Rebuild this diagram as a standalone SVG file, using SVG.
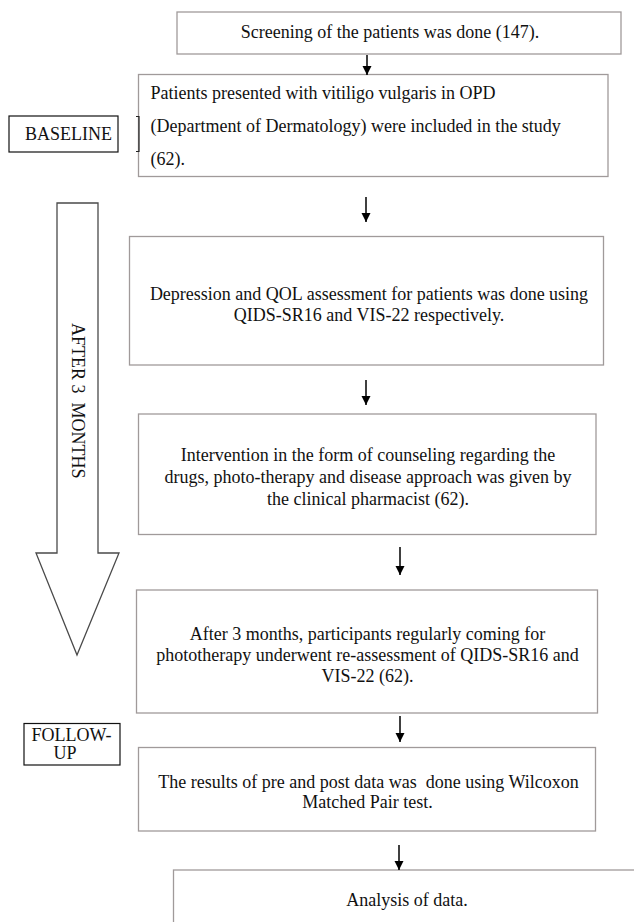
<svg xmlns="http://www.w3.org/2000/svg" width="634" height="922" viewBox="0 0 634 922">
<style>
text{font-family:"Liberation Serif","Times New Roman",serif;font-size:18px;fill:#111;}
.box{fill:#fff;stroke:#a09a9a;stroke-width:1.3;}
.tag{fill:#fff;stroke:#111;stroke-width:1.2;}
.c{text-anchor:middle;}
.conn{stroke:#000;stroke-width:1.5;fill:none;marker-end:url(#ah);}
</style>
<defs>
<marker id="ah" markerUnits="userSpaceOnUse" markerWidth="9" markerHeight="11" refX="9" refY="4.5" orient="auto" viewBox="0 0 9 9">
<path d="M0,0 L9,4.5 L0,9 z" fill="#000"/>
</marker>
</defs>
<rect width="634" height="922" fill="#fff"/>

<g id="period-arrow">
<polygon points="57,203 98,203 98,553 119,553 77,655 36,553 57,553" fill="#fff" stroke="#4a4a4a" stroke-width="1.3"/>
<text transform="translate(72,323) rotate(90)" font-size="17.5" style="white-space:pre">AFTER 3  MONTHS</text>
</g>

<g id="baseline">
<rect class="tag" x="9" y="116" width="109" height="36"/>
<text x="25" y="140">BASELINE</text>
</g>

<g id="followup">
<rect class="tag" x="24" y="723.5" width="96" height="41.5"/>
<text x="31.5" y="740.5">FOLLOW-</text>
<text x="65" y="759" font-size="12" class="c">UP</text>
</g>

<g id="screening">
<rect class="box" x="177" y="12" width="444" height="42"/>
<text class="c" x="390" y="37.5" font-size="17">Screening of the patients was done (147).</text>
</g>

<g id="included">
<rect class="box" x="138.5" y="74.5" width="469.5" height="102"/>
<text x="150.5" y="98.5">Patients presented with vitiligo vulgaris in OPD</text>
<text x="150.5" y="131.5">(Department of Dermatology) were included in the study</text>
<text x="150.5" y="164.5">(62).</text>
<path d="M136,116.5 H139 V151.5 H136" fill="none" stroke="#222" stroke-width="1.2"/>
</g>

<g id="assessment">
<rect class="box" x="129.5" y="236.5" width="474" height="128.5"/>
<text class="c" x="369" y="299.5">Depression and QOL assessment for patients was done using</text>
<text class="c" x="369" y="321">QIDS-SR16 and VIS-22 respectively.</text>
</g>

<g id="intervention">
<rect class="box" x="138.5" y="414" width="457.5" height="120.5"/>
<text class="c" x="368" y="461">Intervention in the form of counseling regarding the</text>
<text class="c" x="368" y="483">drugs, photo-therapy and disease approach was given by</text>
<text class="c" x="368" y="505">the clinical pharmacist (62).</text>
</g>

<g id="reassessment">
<rect class="box" x="136.5" y="590" width="461" height="123"/>
<text class="c" x="367.5" y="639.5">After 3 months, participants regularly coming for</text>
<text class="c" x="367.5" y="660.5">phototherapy underwent re-assessment of QIDS-SR16 and</text>
<text class="c" x="367.5" y="681.5">VIS-22 (62).</text>
</g>

<g id="wilcoxon">
<rect class="box" x="138.5" y="747.5" width="457" height="83.5"/>
<text class="c" x="368.5" y="788" style="white-space:pre">The results of pre and post data was  done using Wilcoxon</text>
<text class="c" x="367.5" y="808">Matched Pair test.</text>
</g>

<g id="analysis">
<rect class="box" x="173.5" y="870" width="470" height="70"/>
<text class="c" x="407" y="906">Analysis of data.</text>
</g>

<g id="connectors">
<line class="conn" x1="367" y1="55" x2="367" y2="75"/>
<line class="conn" x1="366" y1="197" x2="366" y2="222"/>
<line class="conn" x1="366" y1="380" x2="366" y2="405"/>
<line class="conn" x1="400" y1="547" x2="400" y2="575"/>
<line class="conn" x1="400" y1="716" x2="400" y2="742"/>
<line class="conn" x1="399" y1="845" x2="399" y2="870"/>
</g>
</svg>
